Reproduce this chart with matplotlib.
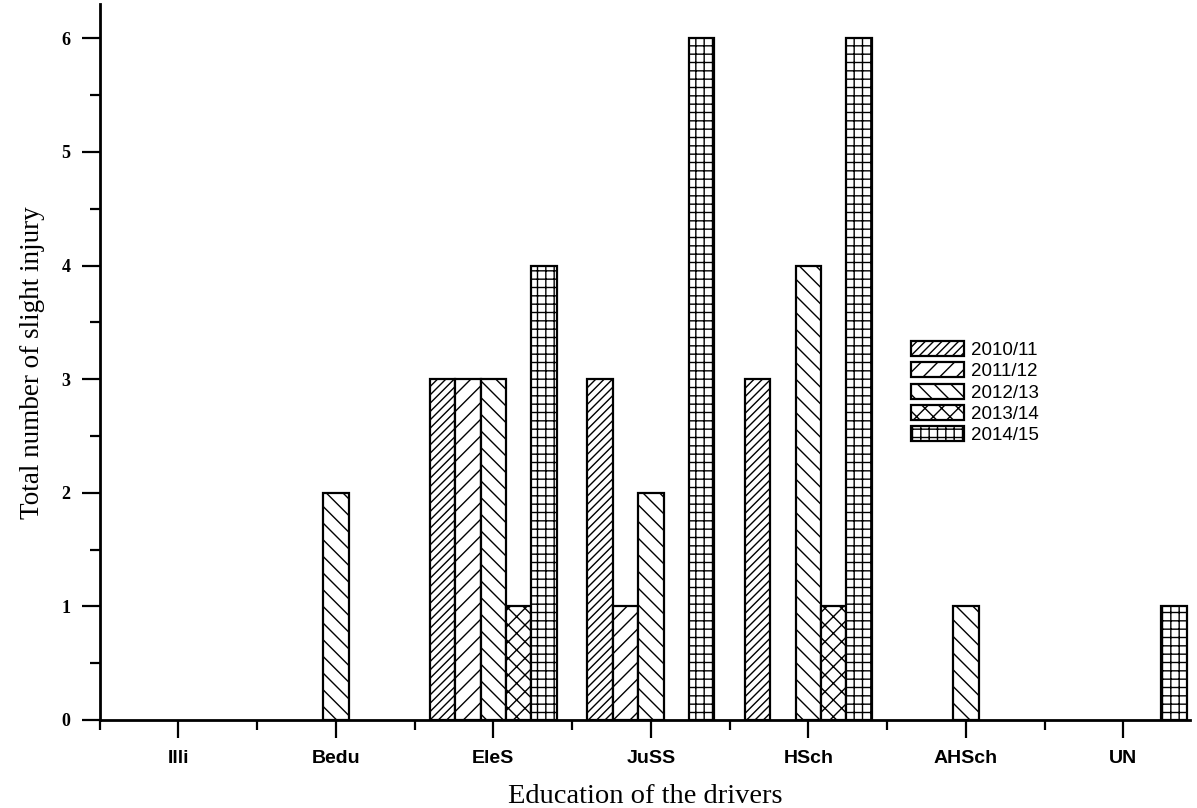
import matplotlib
matplotlib.use("Agg")
import matplotlib.pyplot as plt
import numpy as np
from matplotlib.ticker import MultipleLocator

categories = ["Illi", "Bedu", "EleS", "JuSS", "HSch", "AHSch", "UN"]
series_names = ["2010/11", "2011/12", "2012/13", "2013/14", "2014/15"]
v_2010_11 = [0, 0, 3, 3, 3, 0, 0]
v_2011_12 = [0, 0, 3, 1, 0, 0, 0]
v_2012_13 = [0, 2, 3, 2, 4, 1, 0]
v_2013_14 = [0, 0, 1, 0, 1, 0, 0]
v_2014_15 = [0, 0, 4, 6, 6, 0, 1]
series_values = [v_2010_11, v_2011_12, v_2012_13, v_2013_14, v_2014_15]
hatches = ["////", "//", "\\\\", "xx", "++"]
y_ticks = [0, 1, 2, 3, 4, 5, 6]

plt.rcParams['hatch.linewidth'] = 1.0

W, H = 1197, 808
fig = plt.figure(figsize=(W / 100, H / 100), dpi=100)
ax_left, ax_right = 99.6, 1190
ax_bottom_px, ax_top_px = 720, 4.3
ax = fig.add_axes([ax_left / W, 1 - ax_bottom_px / H,
                   (ax_right - ax_left) / W, (ax_bottom_px - ax_top_px) / H])

x = np.arange(1, len(categories) + 1)
w = 0.161
for i, (name, vals, h) in enumerate(zip(series_names, series_values, hatches)):
    heights = np.array(vals, dtype=float)
    mask = heights > 0
    ax.bar(x[mask] + (i - 2) * w, heights[mask], width=w, facecolor="white",
           edgecolor="black", linewidth=1.6, hatch=h, label=name, zorder=2)

ax.set_xlim(0.5, 0.5 + (ax_right - ax_left) / 157.5)
ax.set_ylim(0, 6.3)

for s in ["top", "right"]:
    ax.spines[s].set_visible(False)
for s in ["left", "bottom"]:
    ax.spines[s].set_linewidth(2.0)
    ax.spines[s].set_zorder(3)

ax.set_xticks(x)
ax.set_xticklabels(categories, fontfamily="Liberation Sans", fontweight="bold", fontsize=14)
ax.set_xticks(x - 0.5, minor=True)
ax.set_yticks(y_ticks)
ax.set_yticklabels([str(t) for t in y_ticks], fontfamily="Liberation Serif",
                   fontweight="bold", fontsize=13)
ax.yaxis.set_minor_locator(MultipleLocator(0.5))

ax.tick_params(axis="both", which="major", direction="out", length=13, width=1.6)
ax.tick_params(axis="both", which="minor", direction="out", length=7.5, width=1.6)
ax.tick_params(axis="x", which="major", pad=8.5)
ax.tick_params(axis="y", which="major", pad=8)

ax.set_xlabel("Education of the drivers", fontfamily="Liberation Serif", fontsize=20.5, labelpad=12)
ax.set_ylabel("Total number of slight injury", fontfamily="Liberation Serif", fontsize=19.5, labelpad=12)

leg = ax.legend(loc="upper left", bbox_to_anchor=(911 / W, 1 - 341 / H),
                bbox_transform=fig.transFigure, frameon=False, borderpad=0,
                prop={"family": "Liberation Sans", "size": 13.5},
                handlelength=2.85, handleheight=0.85, handletextpad=0.35,
                labelspacing=0.18, borderaxespad=0)

fig.savefig("out.png", dpi=100)
